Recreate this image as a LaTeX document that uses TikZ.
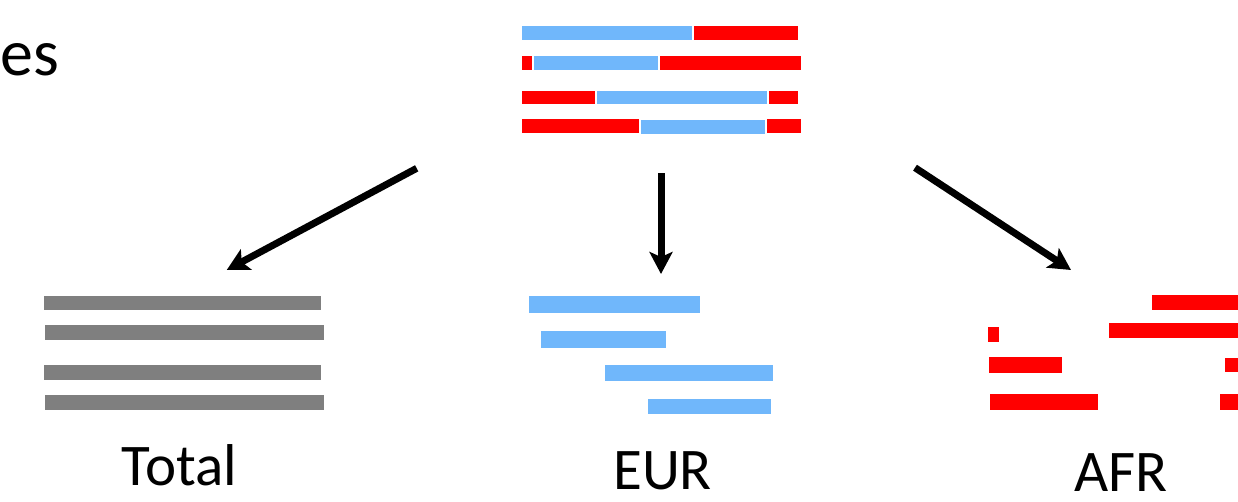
\documentclass[tikz,border=0pt]{standalone}
\usepackage{fontspec}
\setmainfont{Carlito}
\usetikzlibrary{arrows.meta}
\definecolor{eurblue}{RGB}{112,183,251}
\definecolor{afrred}{RGB}{255,0,0}
\definecolor{totgray}{RGB}{127,127,127}
\begin{document}
\begin{tikzpicture}[x=1pt,y=-1pt,
  bb/.style={fill=eurblue,draw=none},
  rb/.style={fill=afrred,draw=none},
  gb/.style={fill=totgray,draw=none},
  lbl/.style={anchor=base west,inner sep=0pt,font=\fontsize{59}{70}\selectfont},
  arr/.style={line width=7pt,-{Stealth[length=22pt,width=23pt,inset=5pt]}}]
\useasboundingbox[fill=white] (0,0) rectangle (1238,501);
% partial title
\node[anchor=base west,inner sep=0pt,font=\fontsize{66}{78}\selectfont] (title) at (0,75) {es};
% top mixed haplotypes
\fill[bb] (521.7,25.7) rectangle (691.7,40);
\fill[rb] (693.7,25.7) rectangle (798,40);
\fill[rb] (521.7,55.7) rectangle (532,70);
\fill[bb] (534.3,55.7) rectangle (658,70);
\fill[rb] (660.3,55.7) rectangle (801.3,70);
\fill[rb] (521.7,90.7) rectangle (595,104.3);
\fill[bb] (597,90.7) rectangle (767.3,104.3);
\fill[rb] (769.3,90.7) rectangle (798,104.3);
\fill[rb] (521.7,119) rectangle (639,132.7);
\fill[bb] (641,120.3) rectangle (765,133.7);
\fill[rb] (767,119) rectangle (801.3,132.7);
% total
\fill[gb] (44,295.7) rectangle (320.7,310);
\fill[gb] (45.3,325.3) rectangle (324,339.7);
\fill[gb] (44,365.3) rectangle (320.7,379.7);
\fill[gb] (45.3,395) rectangle (324,409.7);
% EUR
\fill[bb] (528.7,296.3) rectangle (699.7,313.3);
\fill[bb] (541,331) rectangle (666,348);
\fill[bb] (604.7,365.3) rectangle (773.3,381);
\fill[bb] (648,398.7) rectangle (771,414);
% AFR
\fill[rb] (1151.7,294.7) rectangle (1238,309.7);
\fill[rb] (988.3,326.7) rectangle (998.7,342);
\fill[rb] (1109,323) rectangle (1238,338.3);
\fill[rb] (989.3,357) rectangle (1061.7,372.7);
\fill[rb] (1224.7,357.7) rectangle (1238,371.7);
\fill[rb] (989.7,394.3) rectangle (1098.3,410.3);
\fill[rb] (1220,394.3) rectangle (1238,410.3);
% labels
\node[lbl] (total) at (121.5,485) {Total};
\node[lbl] (eur) at (613,489.5) {EUR};
\node[lbl] (afr) at (1074,491) {AFR};
% arrows
\coordinate (s1) at (416.7,168.3);
\coordinate (t1) at (226.7,270);
\coordinate (s2) at (661,173);
\coordinate (t2) at (661,274);
\coordinate (s3) at (915,167.7);
\coordinate (t3) at (1071,270);
\draw[arr] (s1) -- (t1);
\draw[arr] (s2) -- (t2);
\draw[arr] (s3) -- (t3);
\end{tikzpicture}
\end{document}
